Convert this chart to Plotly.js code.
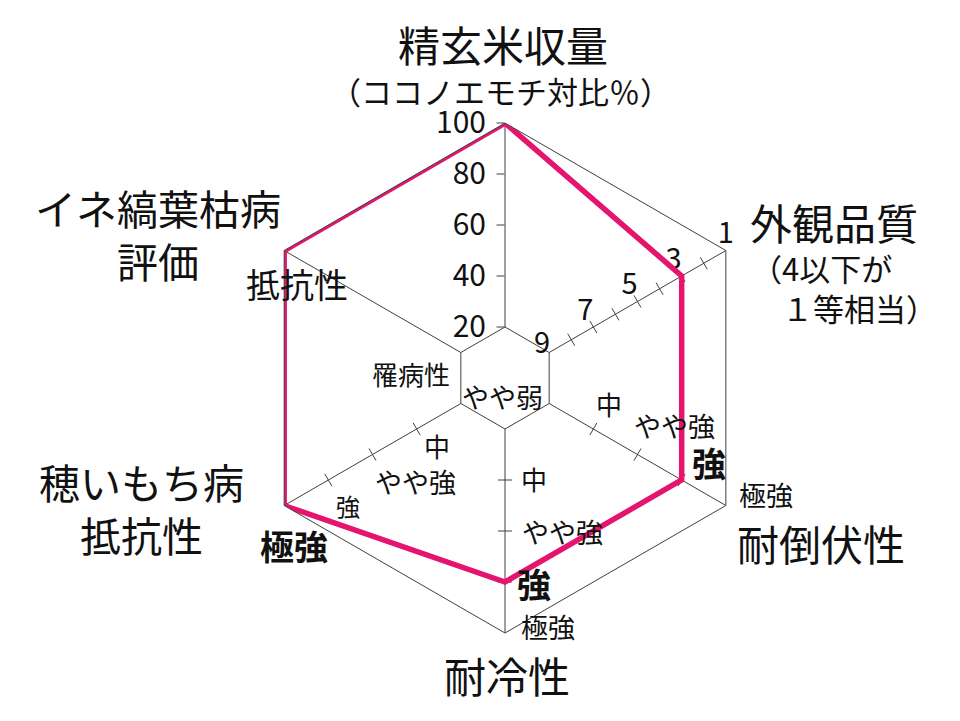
<!DOCTYPE html>
<html>
<head>
<meta charset="utf-8">
<script src="https://cdn.plot.ly/plotly-3.0.1.min.js"></script>
<style>
  html, body { margin: 0; padding: 0; background: #fff; }
  #chart { width: 960px; height: 721px; }
</style>
</head>
<body>
<div id="chart"></div>
<script>
// 6 evaluation axes, clockwise from the top
const axisNames = ["精玄米収量", "外観品質", "耐倒伏性", "耐冷性", "穂いもち病抵抗性", "イネ縞葉枯病評価"];

// values
const yieldPct = 100;        // 精玄米収量 (ココノエモチ対比%)
const appearance = 3;        // 外観品質 (1-9, 4以下が1等相当)
const lodging = "強";        // 耐倒伏性
const coldTol = "強";        // 耐冷性
const blastRes = "極強";     // 穂いもち病抵抗性
const stripeRes = "抵抗性";  // イネ縞葉枯病評価

// scales
const yieldTicks = [20, 40, 60, 80, 100];
const appearanceTicks = [9, 8, 7, 6, 5, 4, 3, 2, 1];
const appearanceLabels = [9, 7, 5, 3, 1];
const resistLevels = ["やや弱", "中", "やや強", "強", "極強"];
const stripeLevels = ["罹病性", "抵抗性"];

const C = { pink: "#e5146f", line: "#404040", ink: "#111" };
const FONT = "Noto Sans CJK JP, Noto Sans, sans-serif";

// every axis is drawn on a common 20 (inner hexagon) .. 100 (outer hexagon) radius
const appR = v => 20 + (9 - v) * 10;
const levelR = s => 20 + resistLevels.indexOf(s) * 20;
const stripeR = s => s === stripeLevels[1] ? 100 : 20;

const values = [yieldPct, appR(appearance), levelR(lodging), levelR(coldTol), levelR(blastRes), stripeR(stripeRes)];

const tickTrace = (name, rs, angle) => ({
  type: "scatterpolar", mode: "markers", theta: rs.map(() => name), r: rs,
  marker: { symbol: "line-ns", size: 10, angle: angle, color: C.line, line: { color: C.line, width: 1 } },
  cliponaxis: false, hoverinfo: "skip", showlegend: false
});

const midLevels = resistLevels.slice(1, 4).map(levelR);
// labels on the inner hexagon edge are hidden by plotly, they go to annotations
const outerAppLabels = appearanceLabels.filter(v => appR(v) > 20);

const traces = [
  tickTrace(axisNames[1], appearanceTicks.slice(1, -1).map(appR), -30),
  tickTrace(axisNames[2], midLevels, 30),
  tickTrace(axisNames[3], midLevels, 90),
  tickTrace(axisNames[4], midLevels, -30),
  {
    type: "scatterpolar", mode: "text", theta: outerAppLabels.map(() => axisNames[1]),
    r: outerAppLabels.map(appR), text: outerAppLabels.map(String),
    textposition: outerAppLabels.map((v, i) => i === outerAppLabels.length - 1 ? "top center" : "top left"),
    textfont: { family: FONT, size: 29, color: C.ink },
    cliponaxis: false, hoverinfo: "skip", showlegend: false
  },
  {
    type: "scatterpolar", mode: "lines", theta: axisNames.concat(axisNames[0]), r: values.concat(values[0]),
    line: { color: C.pink, width: 5.5 }, cliponaxis: false, showlegend: false, name: "評価"
  }
];

const px = x => x / 960, py = y => 1 - y / 721;
const lab = (text, x, y, size, weight, align) => ({
  text: text, x: px(x), y: py(y), xref: "paper", yref: "paper",
  xanchor: "center", yanchor: "middle", showarrow: false, align: align || "center",
  font: { family: FONT, size: size, color: C.ink, weight: weight || 400 }
});

const annotations = [
  lab("精玄米収量", 503, 44, 42),
  lab("（ココノエモチ対比％）", 500, 91, 31),
  lab("外観品質", 834, 222, 42),
  lab("（4以下が<br>　１等相当）", 844, 287, 31, 400, "left"),
  lab("耐倒伏性", 821, 542, 42),
  lab("耐冷性", 507, 674, 42),
  lab("穂いもち病<br>抵抗性", 141, 507, 41),
  lab("イネ縞葉枯病<br>評価", 158, 233, 41),
  lab(String(appearanceLabels[0]), 542, 340, 29),
  lab(stripeLevels[1], 297, 283, 34),
  lab(stripeLevels[0], 411, 373, 26),
  lab(resistLevels[0], 502, 396, 27),
  // 耐倒伏性
  lab(resistLevels[1], 609, 403, 26),
  lab(resistLevels[2], 674, 426, 27),
  lab(resistLevels[3], 709, 462, 34, 700),
  lab(resistLevels[4], 766, 494, 27),
  // 耐冷性
  lab(resistLevels[1], 534, 478, 26),
  lab(resistLevels[2], 562, 531, 27),
  lab(resistLevels[3], 534, 583, 34, 700),
  lab(resistLevels[4], 548, 626, 27),
  // 穂いもち病抵抗性
  lab(resistLevels[1], 437, 446, 26),
  lab(resistLevels[2], 415, 481, 27),
  lab(resistLevels[3], 348, 505, 24),
  lab(resistLevels[4], 294, 545, 34, 700)
];

const layout = {
  width: 960, height: 721,
  margin: { l: 0, r: 0, t: 0, b: 0 },
  paper_bgcolor: "#fff",
  font: { family: FONT, color: C.ink },
  showlegend: false,
  polar: {
    domain: { x: [250 / 960, 760 / 960], y: [1 - 633 / 721, 1 - 123 / 721] },
    bgcolor: "#fff",
    gridshape: "linear",
    hole: 0.2,
    angularaxis: {
      type: "category", categoryarray: axisNames, rotation: 90, direction: "clockwise",
      showgrid: true, gridcolor: C.line, gridwidth: 1,
      showline: true, linecolor: C.line, linewidth: 1,
      ticks: "", showticklabels: false
    },
    radialaxis: {
      range: [20, 100], angle: 90, side: "counterclockwise",
      tickvals: yieldTicks, ticktext: yieldTicks.map(String),
      ticks: "outside", ticklen: 8, tickcolor: C.line, tickwidth: 1,
      tickfont: { family: FONT, size: 30, color: C.ink }, tickangle: 90,
      showgrid: false, showline: false
    }
  },
  annotations: annotations
};

Plotly.newPlot("chart", traces, layout, { displayModeBar: false, staticPlot: true });
</script>
</body>
</html>
